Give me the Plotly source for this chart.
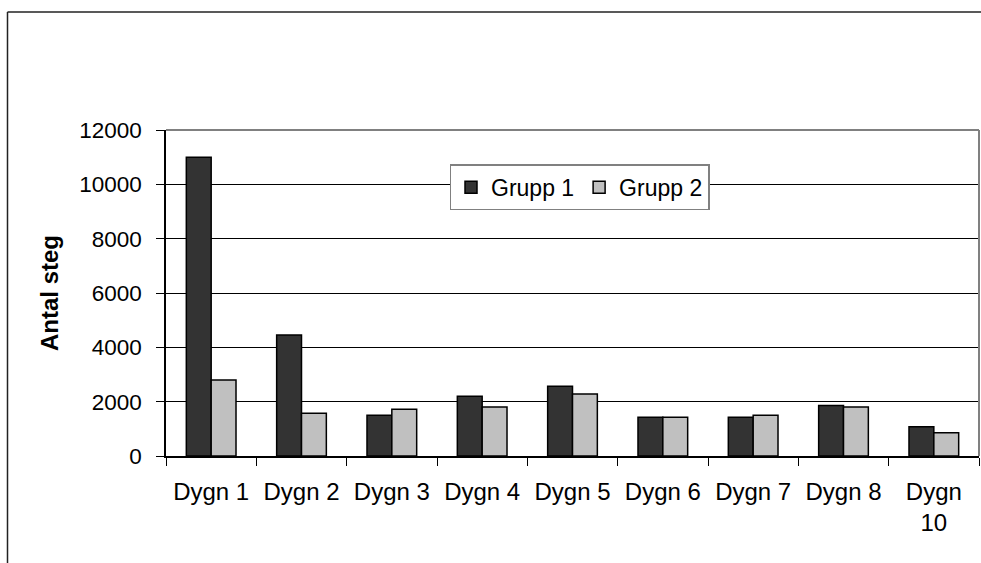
import plotly.graph_objects as go

categories = ["Dygn 1", "Dygn 2", "Dygn 3", "Dygn 4", "Dygn 5", "Dygn 6", "Dygn 7", "Dygn 8", "Dygn<br>10"]
grupp1 = [11000, 4450, 1500, 2200, 2570, 1430, 1430, 1860, 1080]
grupp2 = [2800, 1570, 1720, 1800, 2280, 1430, 1500, 1800, 860]
y_ticks = [0, 2000, 4000, 6000, 8000, 10000, 12000]

W, H = 981, 563
L, T = 166, 130
R = W - 979
B = H - 456
pw, ph = W - L - R, H - T - B

FONT = "Arial, Liberation Sans, sans-serif"

fig = go.Figure()
fig.add_trace(go.Bar(name="Grupp 1", x=categories, y=grupp1,
                     marker=dict(color="#333333", line=dict(color="black", width=1.5))))
fig.add_trace(go.Bar(name="Grupp 2", x=categories, y=grupp2,
                     marker=dict(color="#C0C0C0", line=dict(color="black", width=1.5))))

def px_x(x):
    return (x - L) / pw

def px_y(y):
    return (H - B - y) / ph

shapes = [
    # outer chart frame (left and top)
    dict(type="line", xref="paper", yref="paper", x0=px_x(7.5), x1=px_x(7.5), y0=px_y(700), y1=px_y(12),
         line=dict(color="#222222", width=1.5), layer="above"),
    dict(type="line", xref="paper", yref="paper", x0=px_x(7.5), x1=px_x(1100), y0=px_y(12), y1=px_y(12),
         line=dict(color="#222222", width=1.5), layer="above"),
    # plot area border top/right (gray)
    dict(type="line", xref="paper", yref="paper", x0=0, x1=1, y0=1, y1=1,
         line=dict(color="#808080", width=2), layer="above"),
    dict(type="line", xref="paper", yref="paper", x0=1, x1=1, y0=0, y1=1,
         line=dict(color="#808080", width=2), layer="above"),
]

fig.update_layout(
    width=W, height=H,
    margin=dict(l=L, r=R, t=T, b=B, pad=0),
    paper_bgcolor="white", plot_bgcolor="white",
    font=dict(family=FONT, size=23.5, color="black"),
    barmode="group", bargap=0.45, bargroupgap=0,
    shapes=shapes,
    showlegend=True,
    legend=dict(orientation="h", x=px_x(449.5), y=px_y(164.3), xanchor="left", yanchor="top",
                bgcolor="white", bordercolor="#808080", borderwidth=1.5,
                font=dict(family=FONT, size=23, color="black"),
                itemwidth=30, traceorder="normal"),
)

fig.update_xaxes(
    type="category", showline=True, linecolor="black", linewidth=1.5,
    ticks="outside", ticklen=8, tickcolor="black", tickwidth=1,
    tickson="boundaries", showgrid=False, ticklabelstandoff=13,
    tickfont=dict(family=FONT, size=24, color="black"), tickangle=0,
)
fig.update_yaxes(
    range=[0, 12000], tickvals=y_ticks, ticktext=[str(v) for v in y_ticks],
    showline=True, linecolor="black", linewidth=1.5,
    ticks="outside", ticklen=8, tickcolor="black", tickwidth=1,
    showgrid=True, gridcolor="black", gridwidth=1, zeroline=False,
    ticklabelstandoff=10,
    tickfont=dict(family=FONT, size=22.5, color="black"),
    title=dict(text="<b>Antal steg</b>", font=dict(family=FONT, size=24, color="black"), standoff=14),
)

fig.write_html(
    "out.html",
    config={"displayModeBar": False},
    post_script="document.body.style.margin='0';document.body.style.overflow='hidden';",
)
